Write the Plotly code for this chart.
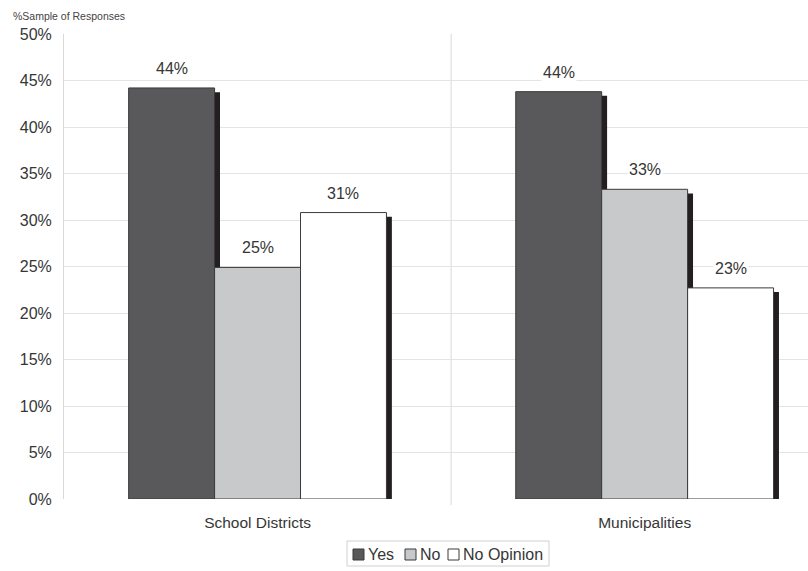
import plotly.graph_objects as go

# Survey results by respondent group
groups = ["School Districts", "Municipalities"]
answers = ["Yes", "No", "No Opinion"]
yes_pct = [44.2, 43.8]
no_pct = [24.9, 33.3]
no_opinion_pct = [30.8, 22.7]
y_ticks = [0, 5, 10, 15, 20, 25, 30, 35, 40, 45, 50]

series = [yes_pct, no_pct, no_opinion_pct]
fills = ["#59595b", "#c8c9cb", "#ffffff"]

W, H = 808, 571
M_L, M_R, M_T, M_B = 64, 0, 34, 72
PLOT_W, PLOT_H = W - M_L - M_R, H - M_T - M_B

BAR_W = 0.222
GROUP_START = -0.333
SHADOW_DX = 0.014   # shadow shift to the right, in category units
SHADOW_DY = 0.45    # shadow drop, in percentage points
FONT = "Liberation Sans, Arial, sans-serif"
TEXT = "#363636"


def px_x(px):
    """Pixel column -> paper x."""
    return (px - M_L) / PLOT_W


def px_y(py):
    """Pixel row -> paper y."""
    return (H - M_B - py) / PLOT_H


fig = go.Figure()
xs = list(range(len(groups)))

# drop shadows drawn first so neighbouring bars cover them
for i, vals in enumerate(series):
    fig.add_trace(go.Bar(
        x=xs, y=[v - SHADOW_DY for v in vals],
        width=BAR_W, offset=GROUP_START + i * BAR_W + SHADOW_DX,
        marker=dict(color="#231f20", line=dict(width=0)),
        showlegend=False, hoverinfo="skip",
    ))

for i, (name, vals) in enumerate(zip(answers, series)):
    fig.add_trace(go.Bar(
        x=xs, y=vals, name=name,
        width=BAR_W, offset=GROUP_START + i * BAR_W,
        marker=dict(color=fills[i], line=dict(color="#3a3a3a", width=1)),
        showlegend=False,
    ))

# value labels on white boxes above each bar
annotations = []
for i, vals in enumerate(series):
    for g, v in zip(xs, vals):
        annotations.append(dict(
            x=g + GROUP_START + (i + 0.5) * BAR_W, y=v,
            text=f"{v:.0f}%", showarrow=False,
            yanchor="bottom", yshift=9,
            bgcolor="white", borderpad=1,
            font=dict(family=FONT, size=16, color=TEXT),
        ))

annotations.append(dict(
    xref="paper", yref="paper", x=px_x(11), y=px_y(16),
    xanchor="left", yanchor="middle",
    text="%Sample of Responses", showarrow=False,
    font=dict(family=FONT, size=10.5, color="#444444"),
))

shapes = [dict(type="line", xref="x", yref="paper", x0=0.5, x1=0.5,
               y0=px_y(505), y1=1, line=dict(color="#d9d9d9", width=1), layer="below")]

# compact legend box below the axis
shapes.append(dict(type="rect", xref="paper", yref="paper",
                   x0=px_x(347), x1=px_x(549), y0=px_y(566), y1=px_y(541),
                   line=dict(color="#d0d0d0", width=1), fillcolor="white"))
legend_sq = [353, 405, 448]
for name, color, sx in zip(answers, fills, legend_sq):
    shapes.append(dict(type="rect", xref="paper", yref="paper",
                       x0=px_x(sx), x1=px_x(sx + 11), y0=px_y(560), y1=px_y(549),
                       line=dict(color="#3a3a3a", width=1), fillcolor=color))
    annotations.append(dict(
        xref="paper", yref="paper", x=px_x(sx + 13), y=px_y(554),
        xanchor="left", yanchor="middle", text=name, showarrow=False,
        font=dict(family=FONT, size=16, color=TEXT),
    ))

fig.update_layout(
    width=W, height=H,
    margin=dict(l=M_L, r=M_R, t=M_T, b=M_B, autoexpand=False),
    paper_bgcolor="white", plot_bgcolor="white",
    barmode="overlay", showlegend=False,
    font=dict(family=FONT, size=16, color=TEXT),
    annotations=annotations,
    shapes=shapes,
    xaxis=dict(
        range=[-0.5, 1.422], tickvals=xs, ticktext=groups,
        showgrid=False, zeroline=False, showline=False, ticks="",
        ticklabelstandoff=12,
        tickfont=dict(family=FONT, size=15.5, color=TEXT),
    ),
    yaxis=dict(
        range=[0, 50], tickvals=y_ticks, ticktext=[f"{t}%" for t in y_ticks],
        showgrid=True, gridcolor="#e4e4e4", gridwidth=1,
        zeroline=False, showline=True, linecolor="#d9d9d9", linewidth=1,
        ticks="", ticklabelstandoff=8,
        tickfont=dict(family=FONT, size=16, color=TEXT),
    ),
)

fig.write_html("out.html")
